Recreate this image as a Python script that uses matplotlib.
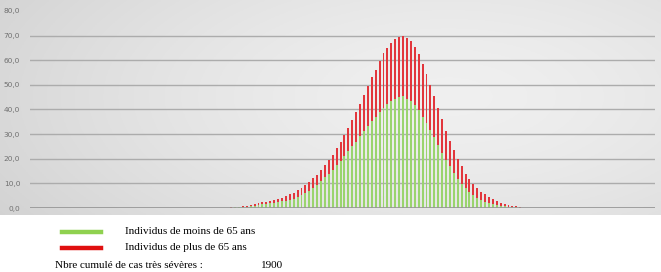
import matplotlib
matplotlib.use("Agg")
import matplotlib.pyplot as plt
import numpy as np

# daily very severe cases, one bar per day (160 days, non-zero from day 50 to 125)
n_days = 160
first_day = 50

under_65 = [
    0.15, 0.2, 0.3, 0.35, 0.45, 0.6, 0.8, 1.0, 1.25, 1.5,
    1.7, 1.9, 2.2, 2.5, 2.8, 2.9, 3.2, 3.8, 4.6, 5.2,
    6.2, 7.1, 8.2, 9.5, 10.9, 12.5, 14.0, 15.6, 17.3, 18.9,
    21.0, 23.0, 25.0, 27.0, 29.3, 31.3, 33.3, 35.3, 37.0, 39.0,
    40.7, 42.1, 43.4, 44.3, 45.1, 45.4,
    44.4, 43.4, 41.8, 39.7, 37.0, 34.4, 31.7, 28.7, 25.6, 22.5,
    19.6, 16.9, 14.2, 11.8, 9.8, 8.1, 6.6, 5.2, 4.2, 3.4,
    2.6, 2.0, 1.6, 1.2, 0.9, 0.7, 0.5, 0.4, 0.3, 0.2,
]
over_65 = [
    0.05, 0.1, 0.1, 0.15, 0.25, 0.3, 0.4, 0.5, 0.65, 0.8,
    0.8, 0.9, 1.0, 1.3, 1.4, 1.9, 2.3, 2.4, 2.6, 3.0,
    3.1, 3.5, 3.8, 4.1, 4.7, 5.1, 5.6, 6.0, 7.0, 7.7,
    8.7, 9.3, 10.7, 12.0, 13.1, 14.5, 16.2, 17.7, 19.0, 20.6,
    22.3, 22.9, 23.6, 24.3, 24.4, 24.6,
    24.6, 24.3, 23.7, 22.9, 21.5, 20.1, 18.1, 16.7, 15.1, 13.5,
    11.8, 10.5, 9.2, 8.1, 7.1, 5.9, 5.2, 4.7, 4.0, 3.3,
    2.9, 2.4, 1.9, 1.5, 1.2, 0.9, 0.7, 0.5, 0.4, 0.2,
]
y_ticks = [0, 10, 20, 30, 40, 50, 60, 70, 80]
label_young = "Individus de moins de 65 ans"
label_old = "Individus de plus de 65 ans"
total_label = "Nbre cumulé de cas très sévères :"
total_value = "1900"

GREEN = "#9ad46e"
RED = "#e2363c"

fig = plt.figure(figsize=(6.61, 2.72), dpi=100)

# grey gradient behind the chart block
bg = fig.add_axes([0, 1 - 215 / 272, 1, 215 / 272])
gx, gy = np.meshgrid(np.linspace(0, 1, 300), np.linspace(0, 1, 120))
dist = np.sqrt(((gx - 0.68) / 0.95) ** 2 + ((gy - 0.45) / 1.3) ** 2)
shade = 0.94 - 0.15 * np.clip(dist, 0, 1) ** 1.5
bg.imshow(np.dstack([shade] * 3), aspect="auto", extent=[0, 1, 0, 1])
bg.axis("off")

ax = fig.add_axes([30 / 661, 1 - 208 / 272, 625 / 661, 197 / 272])
ax.patch.set_alpha(0)

days = np.arange(first_day, first_day + len(under_65))
young = np.array(under_65)
old = np.array(over_65)
ax.bar(days, young, width=0.5, color=GREEN, linewidth=0,
       antialiased=False, zorder=3)
ax.bar(days, old, bottom=young, width=0.5, color=RED, linewidth=0,
       antialiased=False, zorder=3)

ax.set_xlim(-0.5, n_days - 0.5)
ax.set_ylim(0, 80)
for v in y_ticks[:-1]:
    ax.axhline(v, color="#acacac", lw=1.0, zorder=1)
ax.axhline(0, color="#959595", lw=1.2, zorder=4)

ax.set_xticks([])
ax.set_yticks(y_ticks)
ax.set_yticklabels([f"{v:.1f}".replace(".", ",") for v in y_ticks],
                   fontsize=5.3, color="#707070")
ax.tick_params(axis="y", length=0, pad=7)
for s in ax.spines.values():
    s.set_visible(False)

# legend block below the chart
fig.add_artist(plt.Line2D([62 / 661, 101 / 661], [1 - 232 / 272] * 2,
                          color="#8fd14f", lw=3.2))
fig.add_artist(plt.Line2D([62 / 661, 101 / 661], [1 - 248 / 272] * 2,
                          color="#e01010", lw=3.2))
serif = "Liberation Serif"
fig.text(125 / 661, 1 - 232 / 272, label_young, family=serif, fontsize=8,
         va="center", ha="left")
fig.text(125 / 661, 1 - 248 / 272, label_old, family=serif, fontsize=8,
         va="center", ha="left")
fig.text(55 / 661, 1 - 265 / 272, total_label, family=serif, fontsize=8,
         va="center", ha="left")
fig.text(261 / 661, 1 - 265 / 272, total_value, family=serif, fontsize=8,
         va="center", ha="left")

fig.savefig("out.png", dpi=100)
